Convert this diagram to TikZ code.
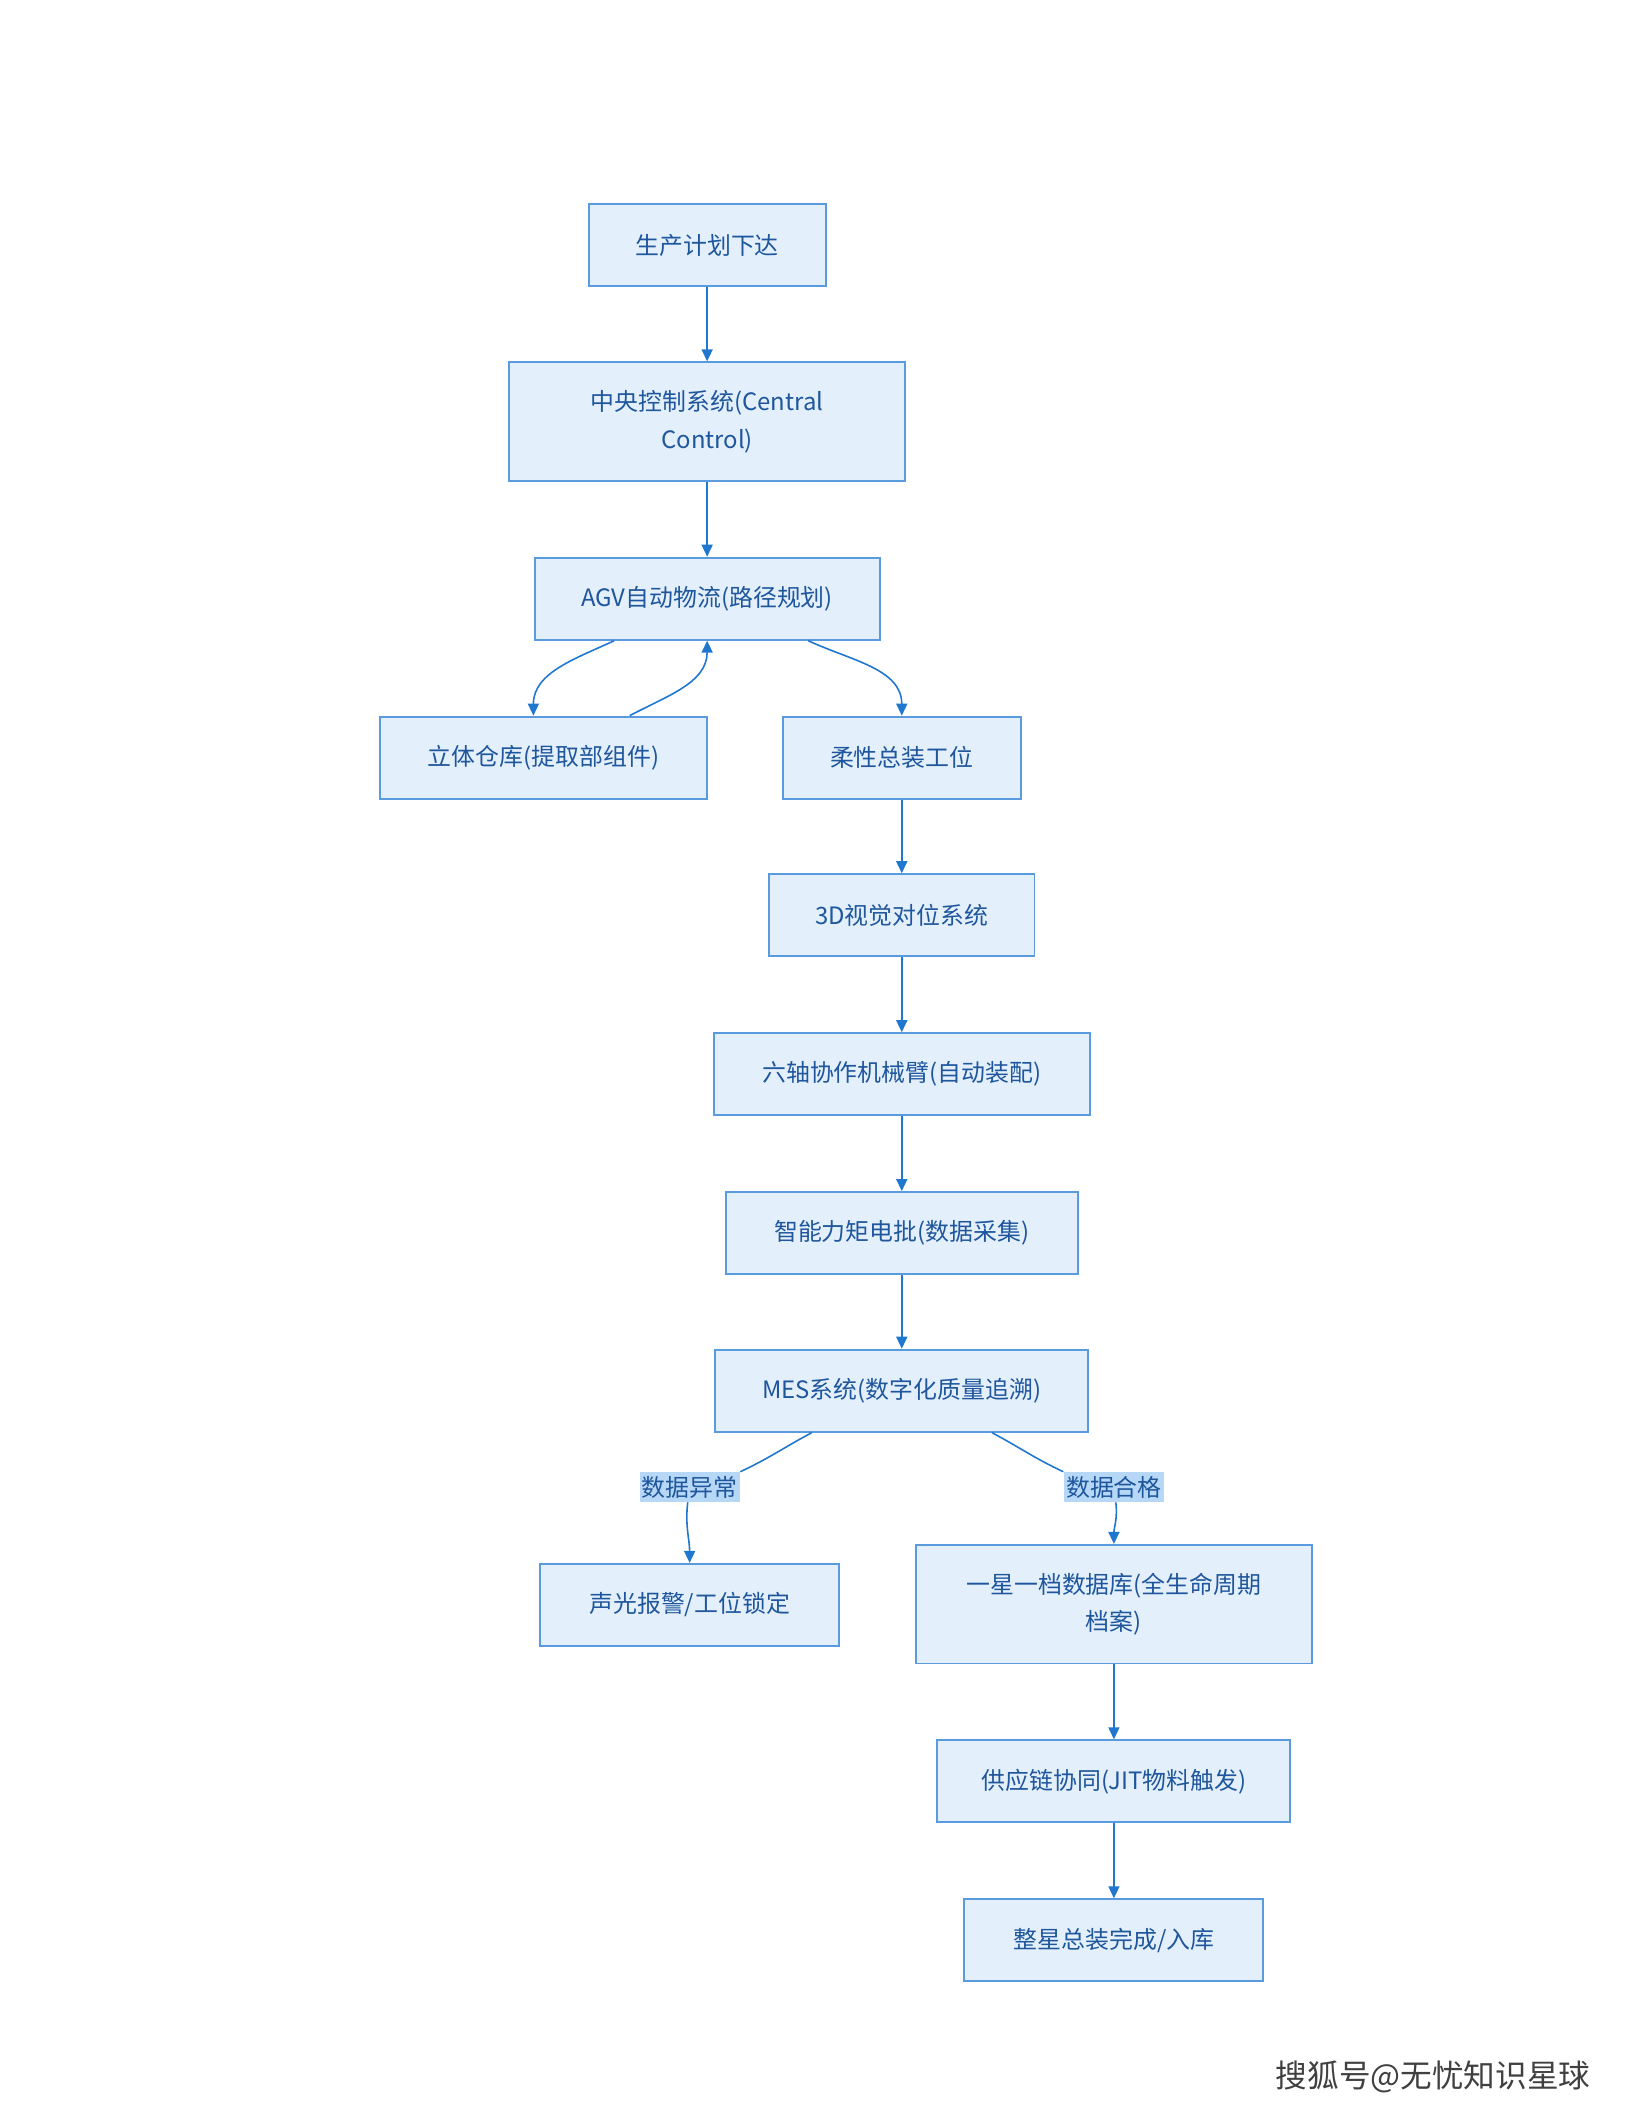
\documentclass[tikz,border=0pt]{standalone}
\usepackage{fontspec}
\newfontfamily\cjk{Noto Sans CJK SC}
\usepackage{xcolor}
\usepackage{tikz}
\usetikzlibrary{positioning,arrows.meta}
\definecolor{boxfill}{HTML}{E3F0FC}
\definecolor{boxline}{HTML}{5A9BE0}
\definecolor{boxtext}{HTML}{1F569C}
\definecolor{flowline}{HTML}{1F77D0}
\definecolor{tagfill}{HTML}{B6D8F6}

\begin{document}
\begin{tikzpicture}[
        x=0.13465mm, y=0.13465mm,
        box/.style ={draw=boxline, fill=boxfill, line width=0.55pt, text=boxtext,
                     font=\cjk\fontsize{6.8}{10.7}\selectfont, align=center,
                     minimum height=8.2mm, inner sep=1pt},
        tall/.style={box, minimum height=11.85mm},
        tag/.style ={fill=tagfill, text=boxtext, font=\cjk\fontsize{6.8}{8}\selectfont,
                     inner xsep=0.6pt, inner ysep=1pt},
        flow/.style={draw=flowline, line width=0.45pt,
                     -{Triangle[length=1.2mm,width=1.1mm]}},
        link/.style={draw=flowline, line width=0.45pt}
    ]
        \useasboundingbox (0,0) rectangle (1212,1568);
        % main column
        \node[box,  minimum width=23.70mm] (plan)  at (525,1386)   {生产计划下达};
        \node[tall, minimum width=39.59mm] (ctrl)  at (525,1255)   {中央控制系统(Central\\Control)};
        \node[box,  minimum width=34.47mm] (agv)   at (525,1123.5) {AGV自动物流(路径规划)};
        \node[box,  minimum width=32.72mm] (store) at (403.5,1005.5) {立体仓库(提取部组件)};
        \node[box,  minimum width=23.83mm] (asm)   at (669.5,1005.5) {柔性总装工位};
        \node[box,  minimum width=26.53mm] (vis)   at (669.5,888.5)  {3D视觉对位系统};
        \node[box,  minimum width=37.57mm] (arm)   at (669.5,770.5)  {六轴协作机械臂(自动装配)};
        \node[box,  minimum width=35.14mm] (drv)   at (669.5,652.5)  {智能力矩电批(数据采集)};
        \node[box,  minimum width=37.30mm] (mes)   at (669.5,535.5)  {MES系统(数字化质量追溯)};
        % branches after MES
        \node[box,  minimum width=29.89mm] (alarm) at (512,376.5)  {声光报警/工位锁定};
        \node[tall, minimum width=39.59mm] (db)    at (827,377)    {一星一档数据库(全生命周期\\档案)};
        \node[box,  minimum width=35.28mm] (jit)   at (827,245.5)  {供应链协同(JIT物料触发)};
        \node[box,  minimum width=29.89mm] (done)  at (827,127.5)  {整星总装完成/入库};
        \node[tag] (bad)  at (512,464) {数据异常};
        \node[tag] (good) at (827,464) {数据合格};

        % straight links
        \foreach \a/\b in {plan/ctrl, ctrl/agv, asm/vis, vis/arm, arm/drv, drv/mes, db/jit, jit/done}
            \draw[flow] (\a) -- (\b);

        % AGV loop with the store, and on to assembly
        \draw[flow] ([xshift=-9.29mm]agv.south) to[out=205, in=90] ([xshift=-1.01mm]store.north);
        \draw[flow] ([xshift=8.62mm]store.north) to[out=28, in=-90] (agv.south);
        \draw[flow] ([xshift=10.1mm]agv.south) to[out=-25, in=90] (asm.north);

        % quality check
        \draw[link] ([xshift=-9.0mm]mes.south) to[out=208, in=25] (bad.north east);
        \draw[flow] (bad) to[out=-97, in=90] (alarm.north);
        \draw[link] ([xshift=9.02mm]mes.south) to[out=-28, in=155] (good.north west);
        \draw[flow] (good) to[out=-83, in=90] (db.north);

        \node[text=black!75, font=\cjk\fontsize{9}{10}\selectfont] (mark) at (1064,26) {搜狐号@无忧知识星球};
    \end{tikzpicture}
\end{document}
